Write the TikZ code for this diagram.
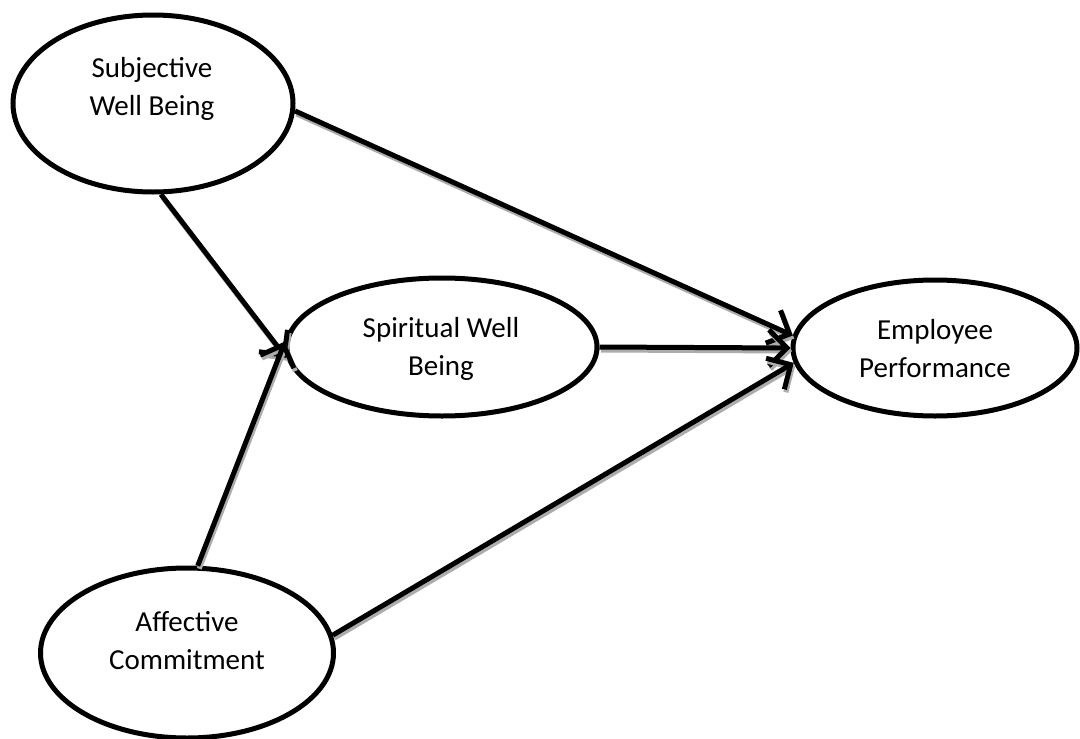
\documentclass[tikz,border=0pt]{standalone}
\usepackage{fontspec}
\setmainfont{Carlito}
\usetikzlibrary{shapes.geometric,arrows.meta}
\newcommand\linkarrow[2]{%
  \begin{scope}[transform canvas={shift={(1.5pt,-3pt)}}]
    \draw[conn,draw=gray!65] (#1) -- (#2);
  \end{scope}
  \draw[conn] (#1) -- (#2);}
\begin{document}
\begin{tikzpicture}[x=1pt,y=-1pt,
  latent/.style={ellipse,draw=black,line width=5pt,fill=white,inner sep=0pt},
  lbl/.style={align=center,anchor=base,font=\fontsize{29}{38}\selectfont},
  conn/.style={draw=black,line width=5pt,line cap=butt,
    -{Straight Barb[length=18pt,width=36pt,line width=5pt,sharp]}}]
\useasboundingbox (0,0) rectangle (1080,739);
% constructs
\node[latent,minimum width=280pt,minimum height=177pt] (swb) at (153,103.5) {};
\node[latent,minimum width=310pt,minimum height=138pt] (sp) at (442,347) {};
\node[latent,minimum width=284pt,minimum height=136pt] (ep) at (935,348) {};
\node[latent,minimum width=293pt,minimum height=170pt] (ac) at (187,653) {};
% labels (base = baseline of the last line)
\node[lbl] (swbt) at (152,115) {Subjective\\Well Being};
\node[lbl] (spt) at (441,375) {Spiritual Well\\Being};
\node[lbl] (ept) at (935,377) {Employee\\Performance};
\node[lbl] (act) at (187,669) {Affective\\Commitment};
% paths
\linkarrow{swb.-3.6}{ep.175}
\linkarrow{swb.-85.5}{sp.184}
\linkarrow{sp.0}{ep.180}
\linkarrow{ac.83}{sp.178.5}
\linkarrow{ac.7.8}{ep.186.7}
\end{tikzpicture}
\end{document}
